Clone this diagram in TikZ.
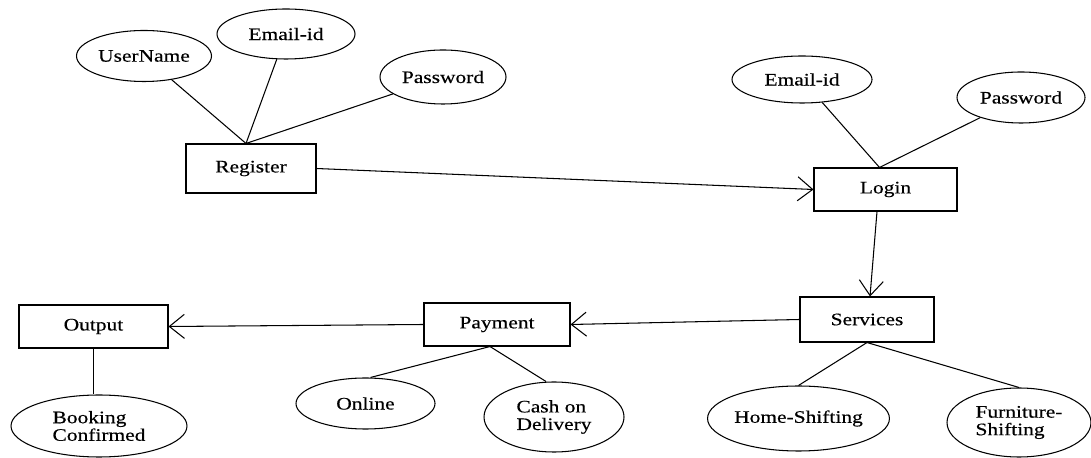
\documentclass[tikz,border=0pt]{standalone}
\usepackage{fontspec}
\setmainfont{Liberation Serif}[FakeStretch=1.22, FakeBold=0.4]
\usepackage{tikz}
\usetikzlibrary{shapes,arrows.meta,positioning}

\begin{document}
\begin{tikzpicture}[
    every node/.style = {font=\fontsize{10}{10}\selectfont, inner sep=0pt},
    entity/.style = {draw, rectangle, line width=0.6pt, minimum height=0.86cm},
    attr/.style = {draw, ellipse, line width=0.6pt, align=left},
    link/.style = {line width=0.6pt},
    flow/.style = {line width=0.6pt, -{Straight Barb[length=0.3cm, width=0.48cm]}}
  ]
  \useasboundingbox (0,0) rectangle (21.82,-9.16);

  % entities
  \node[entity, minimum width=2.60cm, minimum height=0.98cm] (reg) at (5.02,-3.37) {Register};
  \node[entity, minimum width=2.86cm] (login) at (17.71,-3.79) {Login};
  \node[entity, minimum width=2.68cm, minimum height=0.90cm] (svc) at (17.34,-6.39) {Services};
  \node[entity, minimum width=2.92cm] (pay) at (9.94,-6.49) {Payment};
  \node[entity, minimum width=2.98cm] (out) at (1.87,-6.53) {Output};

  % attributes
  \node[attr, minimum width=2.70cm, minimum height=1.02cm] (user) at (2.88,-1.12) {UserName};
  \node[attr, minimum width=2.76cm, minimum height=1.00cm] (mail1) at (5.72,-0.68) {Email-id};
  \node[attr, minimum width=2.52cm, minimum height=1.08cm] (pass1) at (8.86,-1.54) {Password};
  \node[attr, minimum width=2.80cm, minimum height=0.94cm] (mail2) at (16.04,-1.59) {Email-id};
  \node[attr, minimum width=2.56cm, minimum height=1.02cm] (pass2) at (20.42,-1.95) {Password};
  \node[attr, minimum width=3.52cm, minimum height=1.24cm] (book) at (1.98,-8.52) {Booking\\Confirmed};
  \node[attr, minimum width=2.78cm, minimum height=1.02cm] (online) at (7.31,-8.07) {Online};
  \node[attr, minimum width=2.80cm, minimum height=1.40cm] (cod) at (11.08,-8.34) {Cash on\\Delivery};
  \node[attr, minimum width=3.54cm, minimum height=1.30cm] (home) at (15.97,-8.37) {Home-Shifting};
  \node[attr, minimum width=2.88cm, minimum height=1.38cm] (furn) at (20.38,-8.45) {Furniture-\\Shifting};

  % connectors
  \draw[link] (user) -- ([xshift=-1mm]reg.north);
  \draw[link] (mail1) -- ([xshift=-1mm]reg.north);
  \draw[link] (pass1) -- ([xshift=-1mm]reg.north);
  \draw[flow] (reg.east) -- (login.west);
  \draw[link] (mail2) -- ([xshift=-1.2mm]login.north);
  \draw[link] (pass2) -- ([xshift=-1.2mm]login.north);
  \draw[flow] ([xshift=-1.7mm]login.south) -- ([xshift=0.6mm]svc.north);
  \draw[flow] (svc.west) -- (pay.east);
  \draw[flow] (pay.west) -- (out.east);
  \draw[link] (out.south) -- (out.south |- book.north);
  \draw[link] ([xshift=-1.4mm]pay.south) -- ([xshift=1mm]online.north);
  \draw[link] ([xshift=-1.4mm]pay.south) -- ([xshift=-1.6mm]cod.north);
  \draw[link] (svc.south) -- (home.north);
  \draw[link] (svc.south) -- (furn.north);
\end{tikzpicture}
\end{document}
